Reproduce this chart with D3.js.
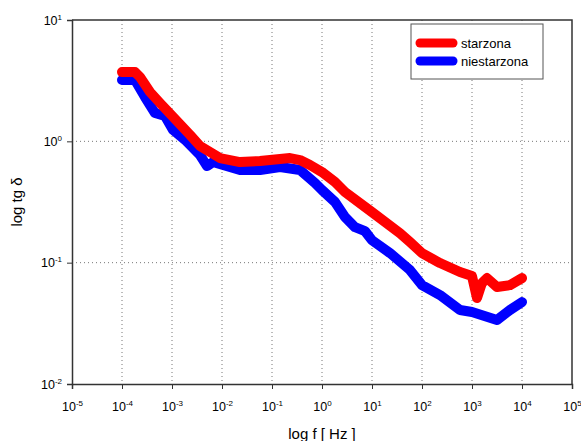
<!DOCTYPE html>
<html>
<head>
<meta charset="utf-8">
<script src="https://cdn.jsdelivr.net/npm/d3@7.9.0/dist/d3.min.js"></script>
<style>
  body { margin: 0; background: #fff; }
  svg { font-family: "Liberation Sans", Arial, sans-serif; }
</style>
</head>
<body>
<div id="chart"></div>
<script>
// frequency [Hz] and tg delta
const freqStar = [1e-4, 1.82e-4, 2.29e-4, 3.63e-4, 5.75e-4, 1.05e-3, 2.29e-3, 3.63e-3, 5.75e-3, 9.12e-3,
  0.0229, 0.0575, 0.145, 0.229, 0.363, 0.575, 1, 1.82, 2.88, 10, 36.3, 57.5, 100, 229, 575, 1000,
  1260, 1580, 2000, 3160, 5750, 10000];
const tgStar = [3.72, 3.72, 3.39, 2.55, 2.07, 1.59, 1.13, 0.915, 0.816, 0.728,
  0.675, 0.688, 0.715, 0.728, 0.701, 0.638, 0.558, 0.462, 0.382, 0.261, 0.175, 0.148, 0.120, 0.0993, 0.0837, 0.0776,
  0.0511, 0.0679, 0.0746, 0.0630, 0.0653, 0.0746];

const freqNie = [1e-4, 1.82e-4, 2.88e-4, 4.57e-4, 7.24e-4, 1.05e-3, 1.82e-3, 3.63e-3, 5.01e-3, 6.61e-3,
  0.0105, 0.0229, 0.0575, 0.145, 0.363, 0.724, 1, 1.82, 2.88, 4.57, 7.24, 10, 22.9, 57.5, 100, 229, 575,
  1000, 3160, 5750, 10000];
const tgNie = [3.20, 3.20, 2.32, 1.71, 1.62, 1.24, 1.03, 0.771, 0.625, 0.675,
  0.638, 0.580, 0.580, 0.614, 0.580, 0.453, 0.397, 0.316, 0.238, 0.196, 0.182, 0.153, 0.120, 0.0869, 0.0653, 0.0541, 0.0407,
  0.0392, 0.0337, 0.0407, 0.0473];

const xTicks = [1e-5, 1e-4, 1e-3, 1e-2, 1e-1, 1e0, 1e1, 1e2, 1e3, 1e4, 1e5];
const yTicks = [1e-2, 1e-1, 1e0, 1e1];

const seriesNames = ['starzona', 'niestarzona'];
const seriesColors = ['#ff0000', '#0000ff'];

const width = 581, height = 441;
const margin = { top: 20, right: 9, bottom: 57, left: 72 };

const svg = d3.select('#chart').append('svg')
  .attr('width', width).attr('height', height);

const x = d3.scaleLog().domain([1e-5, 1e5]).range([margin.left, width - margin.right]);
const y = d3.scaleLog().domain([1e-2, 1e1]).range([height - margin.bottom, margin.top]);

// dotted gridlines
svg.append('g').selectAll('line')
  .data(xTicks.slice(1, -1))
  .join('line')
  .attr('x1', d => x(d)).attr('x2', d => x(d))
  .attr('y1', margin.top).attr('y2', height - margin.bottom)
  .attr('stroke', '#777').attr('stroke-dasharray', '1,3');
svg.append('g').selectAll('line')
  .data(yTicks.slice(1, -1))
  .join('line')
  .attr('y1', d => y(d)).attr('y2', d => y(d))
  .attr('x1', margin.left).attr('x2', width - margin.right)
  .attr('stroke', '#777').attr('stroke-dasharray', '1,3');

// frame (top / right)
svg.append('path')
  .attr('d', `M${margin.left},${margin.top}H${width - margin.right}V${height - margin.bottom}`)
  .attr('fill', 'none').attr('stroke', '#333').attr('stroke-width', 1.5);

// series
const line = d3.line().x(d => x(d[0])).y(d => y(d[1]));
const series = [
  d3.zip(freqStar, tgStar),
  d3.zip(freqNie, tgNie)
];
// blue first, red on top
svg.append('path').datum(series[1])
  .attr('d', line).attr('fill', 'none')
  .attr('stroke', seriesColors[1]).attr('stroke-width', 10)
  .attr('stroke-linejoin', 'round').attr('stroke-linecap', 'round');
svg.append('path').datum(series[0])
  .attr('d', line).attr('fill', 'none')
  .attr('stroke', seriesColors[0]).attr('stroke-width', 10)
  .attr('stroke-linejoin', 'round').attr('stroke-linecap', 'round');

// power-of-ten tick label
const fmtPow = (g, d) => {
  const e = Math.round(Math.log10(d));
  const t = g.append('text').attr('fill', '#000').attr('font-size', 12.5);
  t.append('tspan').text('10');
  t.append('tspan').attr('font-size', 8).attr('dy', -5).text(e);
  return t;
};

const xAxis = svg.append('g').attr('transform', `translate(0,${height - margin.bottom})`);
xAxis.call(d3.axisBottom(x).tickValues(xTicks).tickSize(5).tickFormat(''));
xAxis.select('.domain').attr('stroke', '#333').attr('stroke-width', 1.5);
xAxis.selectAll('.tick line').attr('stroke', '#333');
xAxis.selectAll('.tick').each(function (d) {
  fmtPow(d3.select(this), d).attr('y', 27).attr('text-anchor', 'middle');
});

const yAxis = svg.append('g').attr('transform', `translate(${margin.left},0)`);
yAxis.call(d3.axisLeft(y).tickValues(yTicks).tickSize(5).tickFormat(''));
yAxis.select('.domain').attr('stroke', '#333').attr('stroke-width', 1.5);
yAxis.selectAll('.tick line').attr('stroke', '#333');
yAxis.selectAll('.tick').each(function (d) {
  fmtPow(d3.select(this), d).attr('x', -10).attr('y', 4).attr('text-anchor', 'end');
});

// axis titles
svg.append('text')
  .attr('x', x(1)).attr('y', 439)
  .attr('text-anchor', 'middle').attr('font-size', 15)
  .text('log f [ Hz ]');
svg.append('text')
  .attr('transform', `translate(22,${(margin.top + height - margin.bottom) / 2}) rotate(-90)`)
  .attr('text-anchor', 'middle').attr('font-size', 15)
  .text('log tg δ');

// legend
const lg = svg.append('g').attr('transform', 'translate(411,24)');
lg.append('rect').attr('width', 132).attr('height', 55)
  .attr('fill', '#fff').attr('stroke', '#555');
seriesNames.forEach((name, i) => {
  const yy = 19 + i * 18;
  lg.append('line').attr('x1', 9).attr('x2', 42).attr('y1', yy).attr('y2', yy)
    .attr('stroke', seriesColors[i]).attr('stroke-width', 9).attr('stroke-linecap', 'round');
  lg.append('text').attr('x', 50).attr('y', yy + 5).attr('font-size', 13).text(name);
});
</script>
</body>
</html>
